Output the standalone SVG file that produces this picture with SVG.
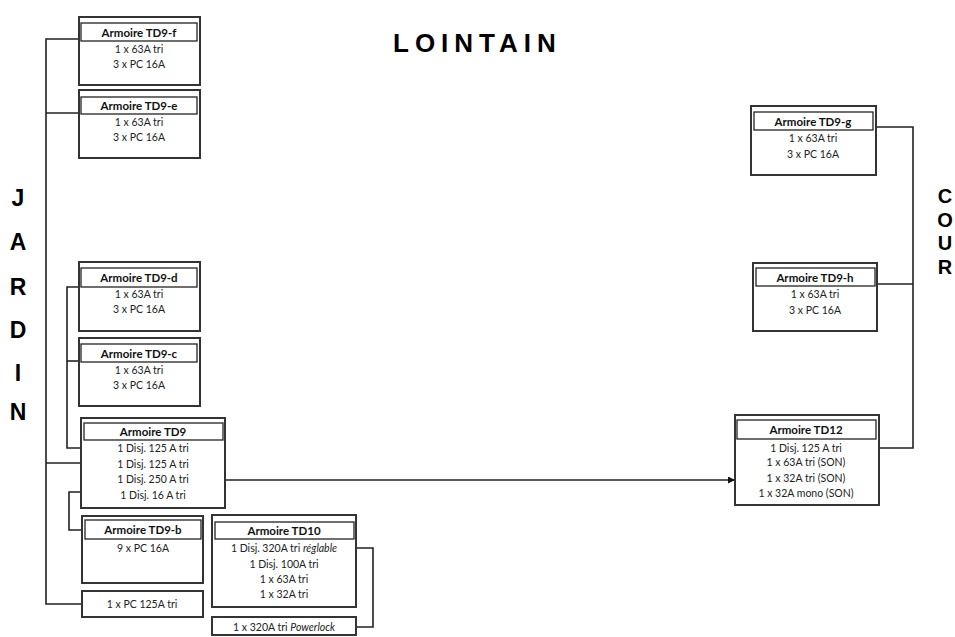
<svg xmlns="http://www.w3.org/2000/svg" width="955" height="637" viewBox="0 0 955 637">
<defs>
<style>
.box{fill:#fff;stroke:#333;stroke-width:2}
.hdr{fill:#fff;stroke:#222;stroke-width:1.3}
.ht{font-family:Lato,"Liberation Sans",sans-serif;font-weight:bold;font-size:11.5px;fill:#111;text-anchor:middle;dominant-baseline:central}
.t{font-family:Lato,"Liberation Sans",sans-serif;font-size:10.5px;fill:#222;text-anchor:middle;dominant-baseline:central}
.side{font-family:"Liberation Sans",Arial,sans-serif;font-weight:bold;font-size:23px;fill:#000;text-anchor:middle;dominant-baseline:central}
.cour{font-family:"Liberation Sans",Arial,sans-serif;font-weight:bold;font-size:20px;fill:#000;text-anchor:middle;dominant-baseline:central}
.title{font-family:"Liberation Sans",Arial,sans-serif;font-weight:bold;font-size:26px;fill:#000;letter-spacing:6px}
.c{fill:none;stroke:#222;stroke-width:1.6}
</style>
<marker id="arr" viewBox="0 0 10 10" refX="10" refY="5" markerWidth="7" markerHeight="7" markerUnits="userSpaceOnUse" orient="auto">
<path d="M0,0 L10,5 L0,10 z" fill="#111"/>
</marker>
</defs>
<rect width="955" height="637" fill="#fff"/>

<text class="title" x="393" y="52">LOINTAIN</text>
<g id="jardin">
<text class="side" x="18" y="198">J</text>
<text class="side" x="18" y="242">A</text>
<text class="side" x="18" y="287">R</text>
<text class="side" x="18" y="330">D</text>
<text class="side" x="18" y="373">I</text>
<text class="side" x="18" y="412">N</text>
</g>
<g id="cour">
<text class="cour" x="945" y="196">C</text>
<text class="cour" x="945" y="219.5">O</text>
<text class="cour" x="945" y="243">U</text>
<text class="cour" x="945" y="266.5">R</text>
</g>

<g id="connectors">
<path class="c" d="M79,39 H46 V604 H82"/>
<path class="c" d="M46,113 H79"/>
<path class="c" d="M46,463 H81"/>
<path class="c" d="M79,287 H67 V448 H81"/>
<path class="c" d="M67,361 H79"/>
<path class="c" d="M81,492 H69 V530 H82"/>
<path class="c" d="M356,548 H373 V627 H356"/>
<path class="c" d="M225,480 H735" marker-end="url(#arr)"/>
<path class="c" d="M868,448 H913 V127 H873"/>
<path class="c" d="M877,284 H913"/>
</g>

<g id="td9f">
<rect class="box" x="79" y="17" width="121" height="68"/>
<rect class="hdr" x="81" y="23" width="116" height="18"/>
<text class="ht" x="139" y="32">Armoire TD9-f</text>
<text class="t" x="139" y="49">1 x 63A tri</text>
<text class="t" x="139" y="64">3 x PC 16A</text>
</g>
<g id="td9e">
<rect class="box" x="79" y="90" width="121" height="68"/>
<rect class="hdr" x="81" y="97" width="116" height="17"/>
<text class="ht" x="139" y="105.5">Armoire TD9-e</text>
<text class="t" x="139" y="122">1 x 63A tri</text>
<text class="t" x="139" y="137">3 x PC 16A</text>
</g>
<g id="td9d">
<rect class="box" x="79" y="262" width="121" height="69"/>
<rect class="hdr" x="81" y="268" width="116" height="19"/>
<text class="ht" x="139" y="277.5">Armoire TD9-d</text>
<text class="t" x="139" y="294">1 x 63A tri</text>
<text class="t" x="139" y="309">3 x PC 16A</text>
</g>
<g id="td9c">
<rect class="box" x="79" y="338" width="121" height="68"/>
<rect class="hdr" x="81" y="344" width="116" height="18"/>
<text class="ht" x="139" y="353">Armoire TD9-c</text>
<text class="t" x="139" y="370">1 x 63A tri</text>
<text class="t" x="139" y="385">3 x PC 16A</text>
</g>
<g id="td9">
<rect class="box" x="81" y="418" width="144" height="90"/>
<rect class="hdr" x="84" y="423" width="139" height="17"/>
<text class="ht" x="153" y="431.5">Armoire TD9</text>
<text class="t" x="153" y="448">1 Disj. 125 A tri</text>
<text class="t" x="153" y="464">1 Disj. 125 A tri</text>
<text class="t" x="153" y="479">1 Disj. 250 A tri</text>
<text class="t" x="153" y="495">1 Disj. 16 A tri</text>
</g>
<g id="td9b">
<rect class="box" x="82" y="516" width="121" height="67"/>
<rect class="hdr" x="85" y="520" width="116" height="19"/>
<text class="ht" x="143" y="529.5">Armoire TD9-b</text>
<text class="t" x="143" y="548">9 x PC 16A</text>
</g>
<g id="pc125">
<rect class="box" x="82" y="591" width="121" height="26"/>
<text class="t" x="142" y="604">1 x PC 125A tri</text>
</g>
<g id="td10">
<rect class="box" x="212" y="515" width="144" height="92"/>
<rect class="hdr" x="215" y="522" width="139" height="17"/>
<text class="ht" x="284" y="530.5">Armoire TD10</text>
<text class="t" x="284" y="548">1 Disj. 320A tri <tspan font-style="italic">réglable</tspan></text>
<text class="t" x="284" y="564">1 Disj. 100A tri</text>
<text class="t" x="284" y="579">1 x 63A tri</text>
<text class="t" x="284" y="594">1 x 32A tri</text>
</g>
<g id="powerlock">
<rect class="box" x="212" y="617" width="144" height="18"/>
<text class="t" x="284" y="627">1 x 320A tri <tspan font-style="italic">Powerlock</tspan></text>
</g>
<g id="td9g">
<rect class="box" x="751" y="106" width="125" height="69"/>
<rect class="hdr" x="754" y="112" width="119" height="18"/>
<text class="ht" x="813" y="121">Armoire TD9-g</text>
<text class="t" x="813" y="138">1 x 63A tri</text>
<text class="t" x="813" y="154">3 x PC 16A</text>
</g>
<g id="td9h">
<rect class="box" x="753" y="263" width="124" height="68"/>
<rect class="hdr" x="756" y="268" width="119" height="18"/>
<text class="ht" x="815" y="277">Armoire TD9-h</text>
<text class="t" x="815" y="294">1 x 63A tri</text>
<text class="t" x="815" y="310">3 x PC 16A</text>
</g>
<g id="td12">
<rect class="box" x="735" y="415" width="144" height="90"/>
<rect class="hdr" x="737" y="420" width="139" height="19"/>
<text class="ht" x="806" y="429.5">Armoire TD12</text>
<text class="t" x="806" y="448">1 Disj. 125 A tri</text>
<text class="t" x="806" y="462">1 x 63A tri (SON)</text>
<text class="t" x="806" y="478">1 x 32A tri (SON)</text>
<text class="t" x="806" y="493">1 x 32A mono (SON)</text>
</g>
</svg>
